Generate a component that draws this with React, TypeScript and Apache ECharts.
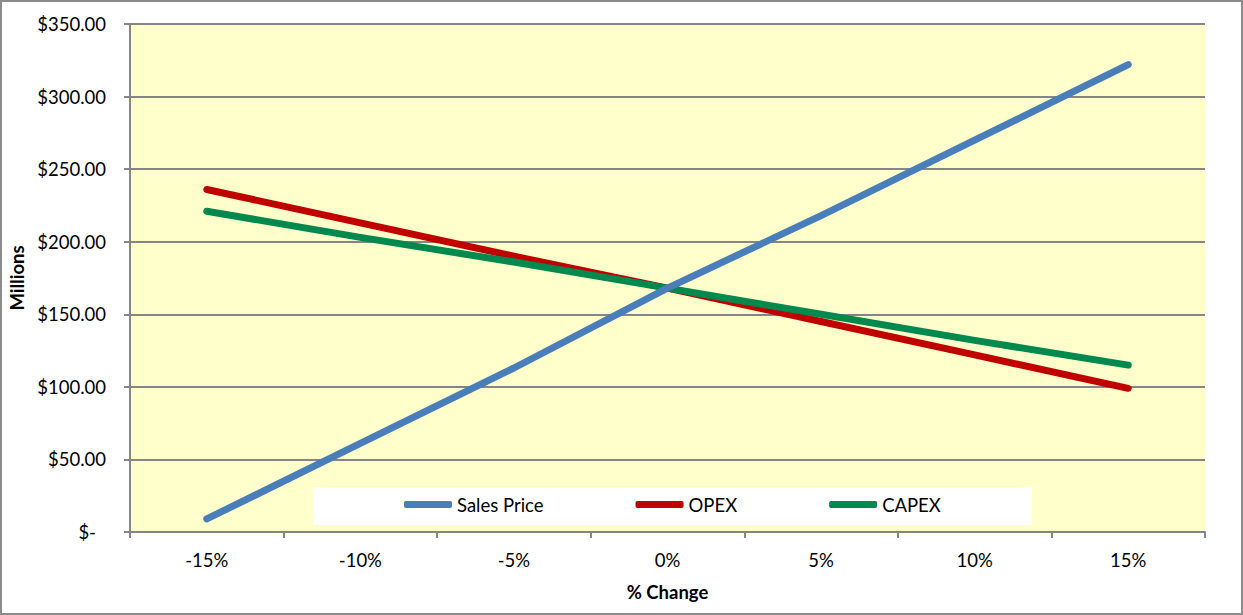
import React, { useEffect, useRef } from "react";
import * as echarts from "echarts";

const categories = ["-15%", "-10%", "-5%", "0%", "5%", "10%", "15%"];
const salesPrice = [9, 61, 113, 168, 218, 270, 322];
const opex = [236, 213, 190, 168, 145, 122, 99];
const capex = [221, 203, 186, 168, 150, 132, 115];
const yTicks = { min: 0, max: 350, interval: 50 };

const FONT = "Lato, 'Open Sans', sans-serif";
const FS = 18.5;

export default function App() {
  const ref = useRef<HTMLDivElement>(null);
  useEffect(() => {
    if (!ref.current) return;
    const chart = echarts.init(ref.current, null, { renderer: "svg" });
    chart.setOption({
      animation: false,
      backgroundColor: "#ffffff",
      textStyle: { fontFamily: FONT },
      graphic: [
        {
          type: "rect",
          shape: { x: 1, y: 1, width: 1241, height: 613 },
          style: { fill: "none", stroke: "#8c8c8c", lineWidth: 2 },
          z: 0,
          silent: true,
        },
        {
          type: "rect",
          shape: { x: 313, y: 487, width: 719, height: 38 },
          style: { fill: "#ffffff" },
          z: 5,
          silent: true,
        },
      ],
      grid: {
        left: 130,
        top: 24,
        width: 1075,
        height: 508,
        show: true,
        backgroundColor: "#FFFFCC",
        borderWidth: 0,
        containLabel: false,
        outerBoundsMode: "none",
      },
      legend: {
        left: 404,
        top: 495,
        padding: 0,
        itemWidth: 48,
        itemHeight: 7,
        itemGap: 92,
        icon: "roundRect",
        z: 10,
        textStyle: { fontFamily: FONT, fontSize: FS, color: "#000" },
        data: ["Sales Price", "OPEX", "CAPEX"],
      },
      xAxis: {
        type: "category",
        data: categories,
        boundaryGap: true,
        name: "% Change",
        nameLocation: "middle",
        nameGap: 50,
        nameTextStyle: { fontFamily: FONT, fontSize: FS, fontWeight: "bold", color: "#000" },
        axisLine: { lineStyle: { color: "#868686", width: 2 } },
        axisTick: { show: true, length: 6, interval: 0, lineStyle: { color: "#868686", width: 2 } },
        axisLabel: { fontFamily: FONT, fontSize: FS, color: "#000", margin: 18, interval: 0 },
      },
      yAxis: {
        type: "value",
        min: yTicks.min,
        max: yTicks.max,
        interval: yTicks.interval,
        name: "Millions",
        nameLocation: "middle",
        nameGap: 104,
        nameTextStyle: { fontFamily: FONT, fontSize: FS, fontWeight: "bold", color: "#000" },
        axisLine: { show: true, lineStyle: { color: "#868686", width: 2 } },
        axisTick: { show: true, length: 6, lineStyle: { color: "#868686", width: 2 } },
        splitLine: { show: true, lineStyle: { color: "#868686", width: 2 } },
        axisLabel: {
          fontFamily: FONT,
          fontSize: FS,
          color: "#000",
          margin: 24,
          formatter: (v: number) => (v === 0 ? "{z|$-}" : "$" + v.toFixed(2)),
          rich: { z: { fontFamily: FONT, fontSize: FS, color: "#000", padding: [0, 10, 0, 0] } },
        },
      },
      series: [
        {
          name: "Sales Price",
          type: "line",
          data: salesPrice,
          symbol: "none",
          z: 4,
          color: "#4A7EBB",
          lineStyle: { width: 7, cap: "round", join: "round", color: "#4A7EBB" },
        },
        {
          name: "OPEX",
          type: "line",
          data: opex,
          symbol: "none",
          z: 2,
          color: "#C00000",
          lineStyle: { width: 7, cap: "round", join: "round", color: "#C00000" },
        },
        {
          name: "CAPEX",
          type: "line",
          data: capex,
          symbol: "none",
          z: 3,
          color: "#00894F",
          lineStyle: { width: 7, cap: "round", join: "round", color: "#00894F" },
        },
      ],
    });
    return () => chart.dispose();
  }, []);
  return (
    <div
      ref={ref}
      style={{ position: "fixed", left: 0, top: 0, width: 1243, height: 615 }}
    />
  );
}
